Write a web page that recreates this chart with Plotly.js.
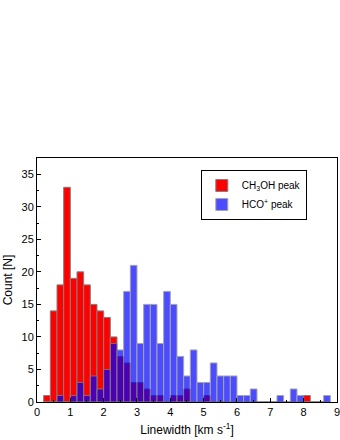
<!DOCTYPE html>
<html>
<head>
<meta charset="utf-8">
<script src="https://cdn.plot.ly/plotly-3.0.1.min.js"></script>
<style>
  html, body { margin: 0; padding: 0; background: #fff; }
  #chart { width: 340px; height: 440px; }
</style>
</head>
<body>
<div id="chart"></div>
<script>
// bin centres, 0.2 km/s wide bins
var binCentres = [0.3, 0.5, 0.7, 0.9, 1.1, 1.3, 1.5, 1.7, 1.9, 2.1,
	2.3, 2.5, 2.7, 2.9, 3.1, 3.3, 3.5, 3.7, 3.9, 4.1,
	4.3, 4.5, 4.7, 4.9, 5.1, 5.3, 5.5, 5.7, 5.9, 6.1,
	6.3, 6.5, 6.7, 6.9, 7.1, 7.3, 7.5, 7.7, 7.9, 8.1,
	8.3, 8.5, 8.7];

var ch3ohCounts = [1, 14, 18, 33, 19, 20, 18, 15, 14, 13,
	10, 7, 6, 3, 3, 2, 1, 1, 0, 1,
	1, 2, 0, 0, 1, 0, 0, 0, 0, 0,
	0, 0, 0, 0, 0, 0, 0, 0, 0, 1,
	0, 0, 0];

var hcoCounts = [0, 0, 1, 0, 1, 3, 1, 4, 2, 5,
	9, 8, 17, 21, 9, 15, 15, 9, 17, 15,
	7, 4, 8, 3, 3, 6, 4, 4, 4, 1,
	1, 2, 0, 0, 0, 1, 0, 2, 1, 0,
	0, 0, 1];

var xTicks = [0, 1, 2, 3, 4, 5, 6, 7, 8, 9];

var seriesNames = ['CH<sub>3</sub>OH peak', 'HCO<sup>+</sup> peak'];

var FONT = 'Arial, "Liberation Sans", sans-serif';

var data = [
	{
		type: 'bar',
		x: binCentres,
		y: ch3ohCounts,
		width: 0.2,
		name: seriesNames[0],
		marker: { color: '#ff0000', line: { color: '#808080', width: 1 } }
	},
	{
		type: 'bar',
		x: binCentres,
		y: hcoCounts,
		width: 0.2,
		name: seriesNames[1],
		opacity: 0.7,
		marker: { color: '#0000ff', line: { color: '#808080', width: 1 } }
	}
];

var layout = {
	width: 340,
	height: 440,
	margin: { l: 37, r: 3, t: 158, b: 38 },
	barmode: 'overlay',
	paper_bgcolor: '#fff',
	plot_bgcolor: '#fff',
	font: { family: FONT, size: 11, color: '#000' },
	showlegend: true,
	legend: {
		x: 0.546, y: 0.951, xanchor: 'left', yanchor: 'top',
		bordercolor: '#000', borderwidth: 1,
		font: { size: 10 },
		tracegroupgap: 0,
		itemwidth: 30
	},
	xaxis: {
		range: [0, 9.001],
		tickmode: 'array',
		tickvals: xTicks,
		ticktext: xTicks.map(String),
		ticks: 'inside', ticklen: 4, tickcolor: '#000',
		minor: { dtick: 0.5, ticks: 'inside', ticklen: 2, tickcolor: '#000' },
		showline: true, mirror: true, linecolor: '#000', linewidth: 1,
		showgrid: false, zeroline: false,
		tickfont: { size: 11 },
		ticklabeloverflow: 'allow',
		title: { text: 'Linewidth [km s<sup>-1</sup>]', font: { size: 12 }, standoff: 8 }
	},
	yaxis: {
		range: [0, 37.5],
		dtick: 5,
		ticks: 'inside', ticklen: 4, tickcolor: '#000',
		minor: { dtick: 2.5, ticks: 'inside', ticklen: 2, tickcolor: '#000' },
		showline: true, mirror: true, linecolor: '#000', linewidth: 1,
		showgrid: false, zeroline: false,
		tickfont: { size: 11 },
		title: { text: 'Count [N]', font: { size: 12 }, standoff: 6 }
	}
};

Plotly.newPlot('chart', data, layout, { displayModeBar: false, staticPlot: true });
</script>
</body>
</html>
